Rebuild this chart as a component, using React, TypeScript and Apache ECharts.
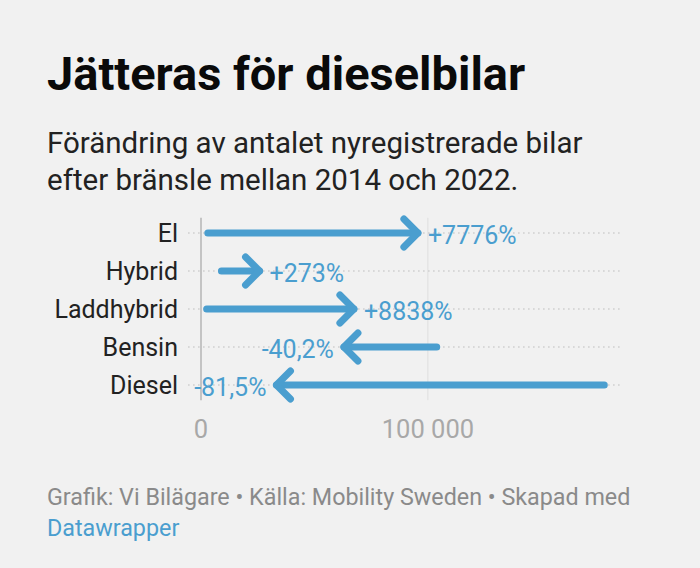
import React, { useEffect, useRef } from "react";
import * as echarts from "echarts";

const categories = ["El", "Hybrid", "Laddhybrid", "Bensin", "Diesel"];
const values2014 = [3000, 9000, 2500, 103900, 177750];
const values2022 = [95600, 25800, 67400, 63000, 33260];
const changeLabels = ["+7776%", "+273%", "+8838%", "-40,2%", "-81,5%"];
const xTicks = [0, 100000];
const xMax = 186000;

const BLUE = "#4a9ecf";
const FONT = "Roboto, 'Noto Sans', sans-serif";

export default function App() {
  const ref = useRef<HTMLDivElement>(null);
  useEffect(() => {
    document.body.style.margin = "0";
    const chart = echarts.init(ref.current!, null, { renderer: "svg" });
    const data = categories.map((c, i) => [values2014[i], values2022[i], i]);
    const option: any = {
      animation: false,
      backgroundColor: "#f1f1f1",
      textStyle: { fontFamily: FONT },
      grid: { left: 201, right: 77, top: 214, bottom: 164, containLabel: false },
      xAxis: {
        type: "value",
        min: 0,
        max: xMax,
        interval: 100000,
        axisLine: { show: false },
        axisTick: { show: false },
        splitLine: { show: false },
        axisLabel: {
          color: "#a8a8a8",
          fontSize: 25.5,
          fontFamily: FONT,
          margin: 12,
          formatter: (v: number) => (xTicks.includes(v) ? String(v).replace(/\B(?=(\d{3})+(?!\d))/g, " ") : ""),
        },
      },
      yAxis: {
        type: "category",
        data: categories,
        inverse: true,
        axisLine: { show: false },
        axisTick: { show: false },
        splitLine: { show: false },
        axisLabel: { color: "#222", fontSize: 25, fontFamily: FONT, margin: 23 },
      },
      graphic: [
        {
          type: "text",
          left: 47,
          top: 50,
          style: { text: "Jätteras för dieselbilar", fontSize: 47, fontWeight: "bold", fill: "#0a0a0a", fontFamily: FONT },
        },
        {
          type: "text",
          left: 47,
          top: 124,
          style: {
            text: "Förändring av antalet nyregistrerade bilar\nefter bränsle mellan 2014 och 2022.",
            fontSize: 29.5,
            lineHeight: 37,
            fill: "#222",
            fontFamily: FONT,
          },
        },
        {
          type: "text",
          left: 47,
          top: 485,
          style: {
            text: "Grafik: Vi Bilägare • Källa: Mobility Sweden • Skapad med",
            fontSize: 23.3,
            fill: "#8a8a8a",
            fontFamily: FONT,
          },
        },
        {
          type: "text",
          left: 47,
          top: 516,
          style: { text: "Datawrapper", fontSize: 23.3, fill: BLUE, fontFamily: FONT },
        },
      ],
      series: [
        {
          type: "custom",
          z: 1,
          data: [[0]],
          renderItem: (params: any, api: any) => {
            const band = api.size([0, 1])[1];
            const top = api.coord([0, 0])[1] - band * 0.4;
            const bottom = api.coord([0, categories.length - 1])[1] + band * 0.4;
            const x0 = api.coord([0, 0])[0];
            const x100 = api.coord([xTicks[1], 0])[0];
            return {
              type: "group",
              children: [
                {
                  type: "line",
                  shape: { x1: x100, y1: top, x2: x100, y2: bottom },
                  style: { stroke: "#dedede", lineWidth: 1 },
                },
                {
                  type: "line",
                  shape: { x1: x0, y1: top, x2: x0, y2: bottom },
                  style: { stroke: "#c4c4c4", lineWidth: 2 },
                },
              ],
            };
          },
        },
        {
          type: "custom",
          z: 1,
          data,
          encode: { x: [0, 1], y: 2 },
          renderItem: (params: any, api: any) => {
            const y = api.coord([0, api.value(2)])[1];
            const x0 = api.coord([0, api.value(2)])[0] - 13;
            const x1 = api.coord([xMax, api.value(2)])[0];
            return {
              type: "line",
              shape: { x1: x0, y1: y, x2: x1, y2: y },
              style: { stroke: "#cfcfcf", lineWidth: 1.6, lineDash: [1.6, 3.4] },
              silent: true,
            };
          },
        },
        {
          type: "custom",
          z: 3,
          data,
          encode: { x: [0, 1], y: 2 },
          renderItem: (params: any, api: any) => {
            const i = api.value(2);
            const s = api.coord([api.value(0), i]);
            const e = api.coord([api.value(1), i]);
            const dir = e[0] >= s[0] ? 1 : -1;
            const arm = 14;
            const label = changeLabels[params.dataIndex];
            return {
              type: "group",
              children: [
                {
                  type: "line",
                  shape: { x1: s[0], y1: s[1], x2: e[0], y2: e[1] },
                  style: { stroke: BLUE, lineWidth: 7, lineCap: "round" },
                },
                {
                  type: "polyline",
                  shape: {
                    points: [
                      [e[0] - dir * arm, e[1] - arm],
                      [e[0], e[1]],
                      [e[0] - dir * arm, e[1] + arm],
                    ],
                  },
                  style: { stroke: BLUE, fill: "none", lineWidth: 7, lineCap: "round", lineJoin: "round" },
                },
                {
                  type: "text",
                  x: e[0] + dir * 10,
                  y: e[1] + 2,
                  style: {
                    text: label,
                    fill: BLUE,
                    fontSize: 25,
                    fontFamily: FONT,
                    align: dir > 0 ? "left" : "right",
                    verticalAlign: "middle",
                  },
                },
              ],
            };
          },
        },
      ],
    };
    chart.setOption(option);
    return () => chart.dispose();
  }, []);
  return <div ref={ref} style={{ position: "fixed", left: 0, top: 0, width: 700, height: 568 }} />;
}
